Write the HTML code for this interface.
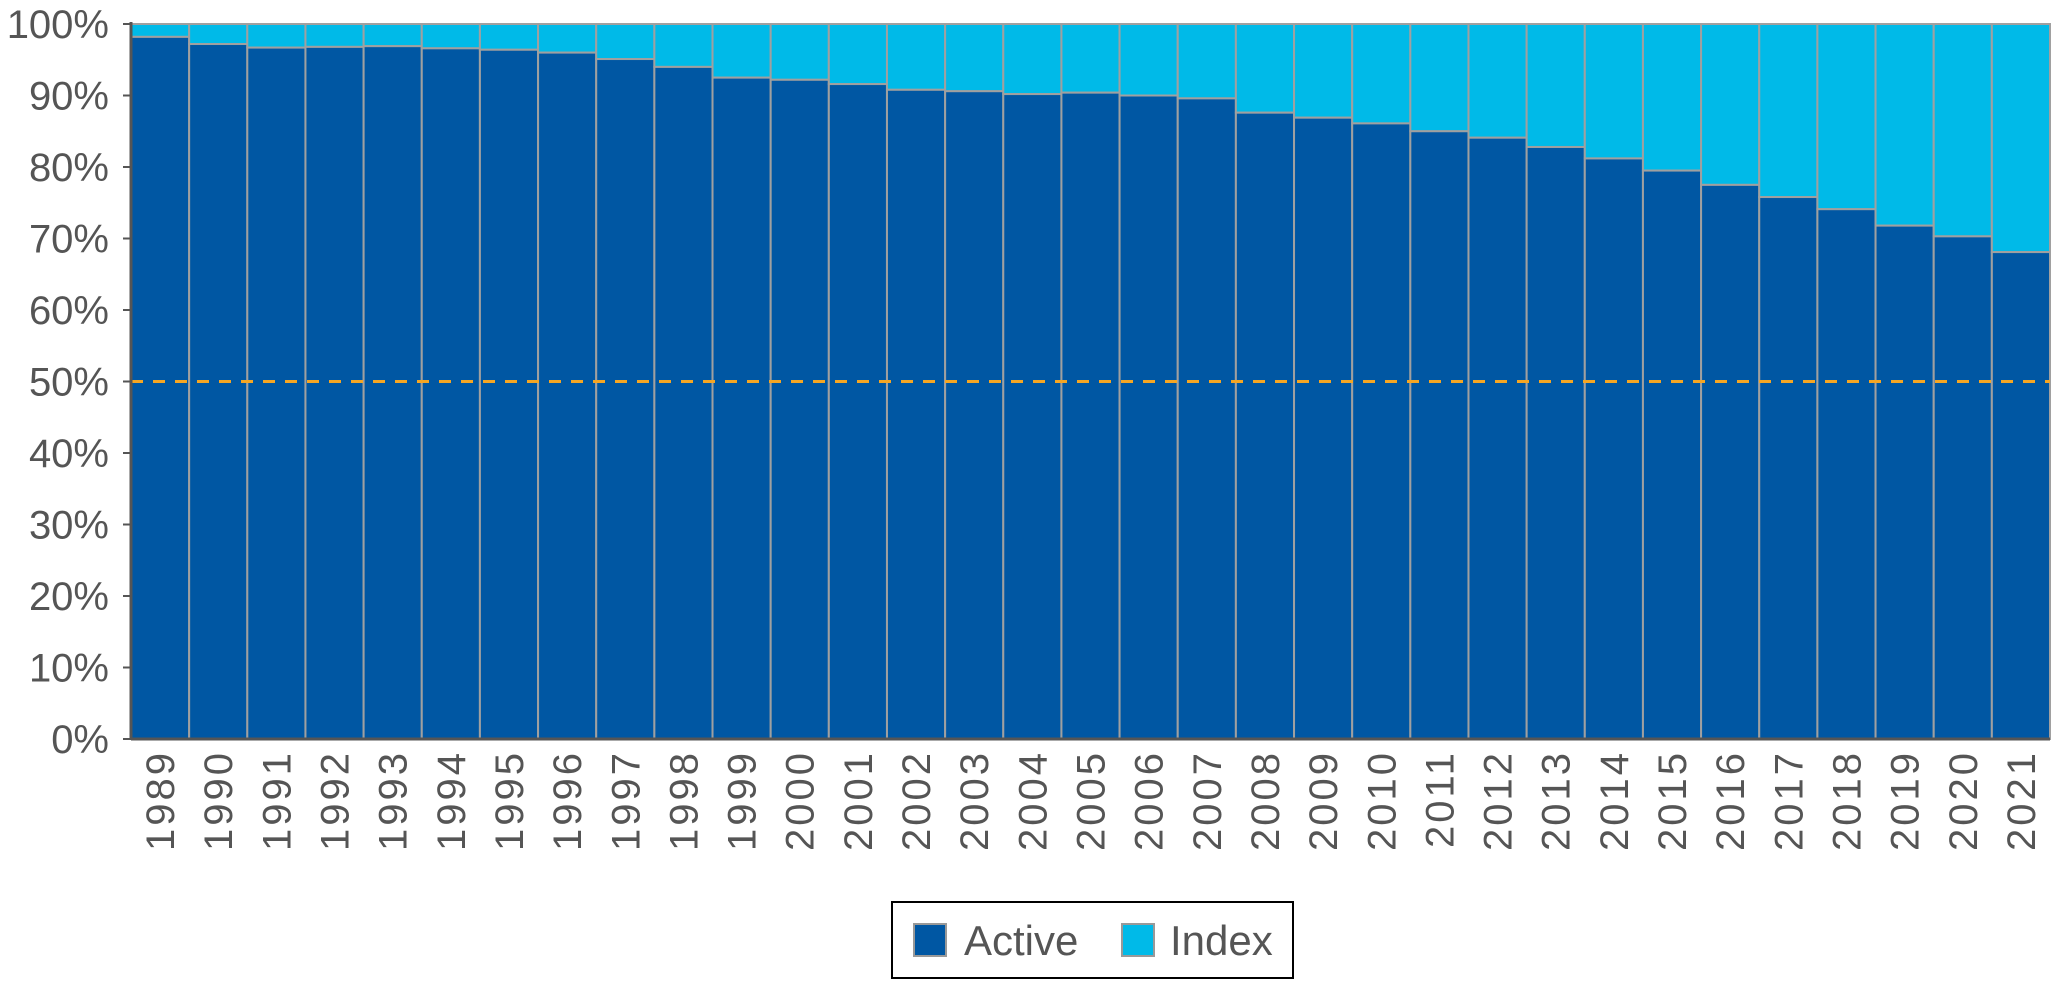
<!DOCTYPE html>
<html><head><meta charset="utf-8"><style>
html,body{margin:0;padding:0;background:#fff;}
svg{display:block;font-family:"Liberation Sans",sans-serif;}
</style></head><body>
<svg id="chart" width="2058" height="983" viewBox="0 0 2058 983">
<g id="plot"></g>
<g>
<rect x="892" y="902" width="401" height="76" fill="#fff" stroke="#000" stroke-width="2"/>
<rect x="914" y="924" width="32" height="32" fill="#0057a3" stroke="#999" stroke-width="2"/>
<text x="964" y="955" font-size="42" fill="#555">Active</text>
<rect x="1122" y="924" width="32" height="32" fill="#00bae8" stroke="#999" stroke-width="2"/>
<text x="1170" y="955" font-size="42" fill="#555">Index</text>
</g>
</svg>
<script>
const years=["1989","1990","1991","1992","1993","1994","1995","1996","1997","1998","1999","2000","2001","2002","2003","2004","2005","2006","2007","2008","2009","2010","2011","2012","2013","2014","2015","2016","2017","2018","2019","2020","2021"];
const active=[98.2,97.2,96.7,96.8,96.9,96.6,96.4,96.0,95.1,94.0,92.5,92.2,91.6,90.8,90.6,90.2,90.4,90.0,89.6,87.6,86.9,86.1,85.0,84.1,82.8,81.2,79.5,77.5,75.8,74.1,71.8,70.3,68.1];
const yTicks=[0,10,20,30,40,50,60,70,80,90,100];
const refLine=50;

const NS="http://www.w3.org/2000/svg";
const g=document.getElementById('plot');
const L=131,R=2050,T=24,B=739;
const bw=(R-L)/years.length;
const y=v=>B-(v/100)*(B-T);
const x=i=>L+i*bw;
function mk(t,a){const e=document.createElementNS(NS,t);for(const k in a)e.setAttribute(k,a[k]);g.appendChild(e);return e;}

years.forEach((yr,i)=>{
  const r1=mk('rect',{x:x(i),y:y(100),width:bw,height:y(active[i])-y(100),fill:'#00bae8',stroke:'#a0a0a0','stroke-width':2});
  
  
  const r2=mk('rect',{x:x(i),y:y(active[i]),width:bw,height:B-y(active[i]),fill:'#0057a3',stroke:'#a0a0a0','stroke-width':2});
  
  
  const cx=x(i)+bw/2+14, ty=750;
  const t=mk('text',{x:cx,y:ty,'font-size':40,'letter-spacing':3,fill:'#555','text-anchor':'end',transform:`rotate(-90 ${cx} ${ty})`});
  t.textContent=yr;
  
  
});
const dl=mk('line',{x1:L,x2:R,y1:y(refLine),y2:y(refLine),stroke:'#f5a623','stroke-width':3,'stroke-dasharray':'12 10'});


yTicks.forEach(v=>{
  const tk=mk('line',{x1:L-8,x2:L,y1:y(v),y2:y(v),stroke:'#555','stroke-width':2});
  
  
  const t=mk('text',{x:L-22,y:y(v)+14,'font-size':40,fill:'#555','text-anchor':'end'});
  t.textContent=v+'%';
  
  
});
const ax=mk('line',{x1:L,x2:L,y1:T-2,y2:B,stroke:'#555','stroke-width':3});


const bx=mk('line',{x1:L,x2:R,y1:B,y2:B,stroke:'#555','stroke-width':3});


</script>
</body></html>
